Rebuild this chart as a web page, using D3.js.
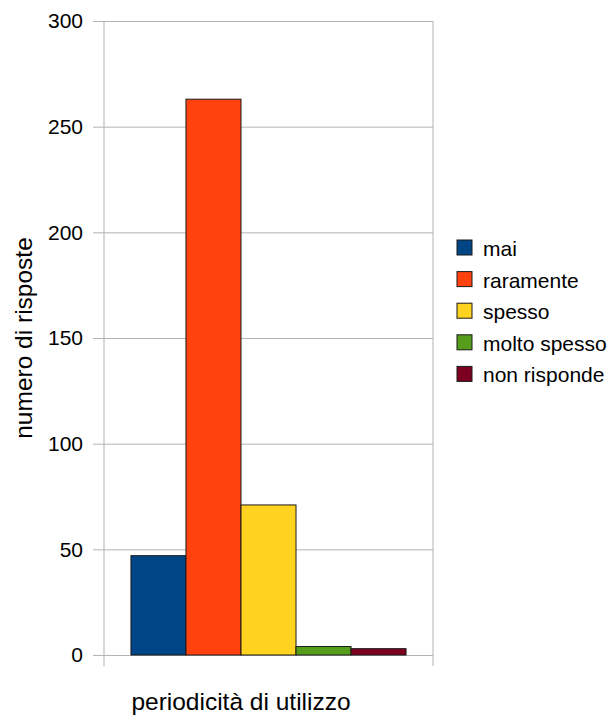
<!DOCTYPE html>
<html>
<head>
<meta charset="utf-8">
<script src="https://cdn.jsdelivr.net/npm/d3@7"></script>
<style>
  html, body { margin: 0; padding: 0; background: #fff; }
  svg { display: block; font-family: "Liberation Sans", Arial, sans-serif; }
</style>
</head>
<body>
<svg id="chart" width="613" height="717"></svg>
<script>
const categories = [""];
const seriesNames = ["mai", "raramente", "spesso", "molto spesso", "non risponde"];
const seriesValues = [47, 263, 71, 4, 3];
const seriesColors = ["#004586", "#ff420e", "#ffd320", "#579d1c", "#7e0021"];
const yTicks = [0, 50, 100, 150, 200, 250, 300];
const xTitle = "periodicità di utilizzo";
const yTitle = "numero di risposte";

const svg = d3.select("#chart");
const plotL = 104, plotR = 433, plotT = 21, plotB = 655;

const y = d3.scaleLinear().domain([0, 300]).range([plotB, plotT]);
const x0 = d3.scaleBand().domain(categories).range([plotL, plotR]).paddingInner(0).paddingOuter(0.098);
const x1 = d3.scaleBand().domain(seriesNames).range([0, x0.bandwidth()]).padding(0);

// gridlines
const grid = svg.append("g").attr("transform", `translate(${plotL},0)`)
  .call(d3.axisLeft(y).tickValues(yTicks).tickSize(-(plotR - plotL)).tickFormat(""));
grid.select(".domain").remove();
grid.selectAll("line").attr("stroke", "#b3b3b3").attr("stroke-width", 1);

// tick labels + outer ticks
const yAxis = svg.append("g").attr("transform", `translate(${plotL},0)`)
  .call(d3.axisLeft(y).tickValues(yTicks).tickSize(11).tickPadding(10));
yAxis.select(".domain").remove();
yAxis.selectAll("line").attr("stroke", "#b3b3b3");
yAxis.selectAll("text").attr("font-size", 21).attr("fill", "#000")
  .attr("font-family", "Liberation Sans, Arial, sans-serif");

// vertical frame lines
svg.append("g").selectAll("line").data([plotL, plotR]).join("line")
  .attr("x1", d => d).attr("x2", d => d)
  .attr("y1", plotT).attr("y2", plotB + 11)
  .attr("stroke", "#b3b3b3").attr("stroke-width", 1);

// bars
svg.append("g").selectAll("g").data(categories).join("g")
  .attr("transform", d => `translate(${x0(d)},0)`)
  .selectAll("rect").data(seriesNames.map((n, i) => ({ n, v: seriesValues[i], c: seriesColors[i] })))
  .join("rect")
  .attr("x", d => x1(d.n))
  .attr("y", d => y(d.v))
  .attr("width", x1.bandwidth())
  .attr("height", d => plotB - y(d.v))
  .attr("fill", d => d.c)
  .attr("stroke", "#1a1a1a").attr("stroke-width", 1);

// legend
const legend = svg.append("g").attr("transform", "translate(457,240)");
const item = legend.selectAll("g").data(seriesNames).join("g")
  .attr("transform", (d, i) => `translate(0,${i * 31.6})`);
item.append("rect").attr("width", 15).attr("height", 15)
  .attr("fill", (d, i) => seriesColors[i]).attr("stroke", "#1a1a1a").attr("stroke-width", 1);
item.append("text").attr("x", 26).attr("y", 16).attr("font-size", 21).attr("fill", "#000")
  .text(d => d);

// axis titles
svg.append("text").attr("x", 241).attr("y", 710).attr("text-anchor", "middle")
  .attr("font-size", 24.5).attr("fill", "#000").text(xTitle);
svg.append("text").attr("transform", `translate(32,${(plotT + plotB) / 2}) rotate(-90)`)
  .attr("text-anchor", "middle").attr("font-size", 24.5).attr("fill", "#000").text(yTitle);
</script>
</body>
</html>
